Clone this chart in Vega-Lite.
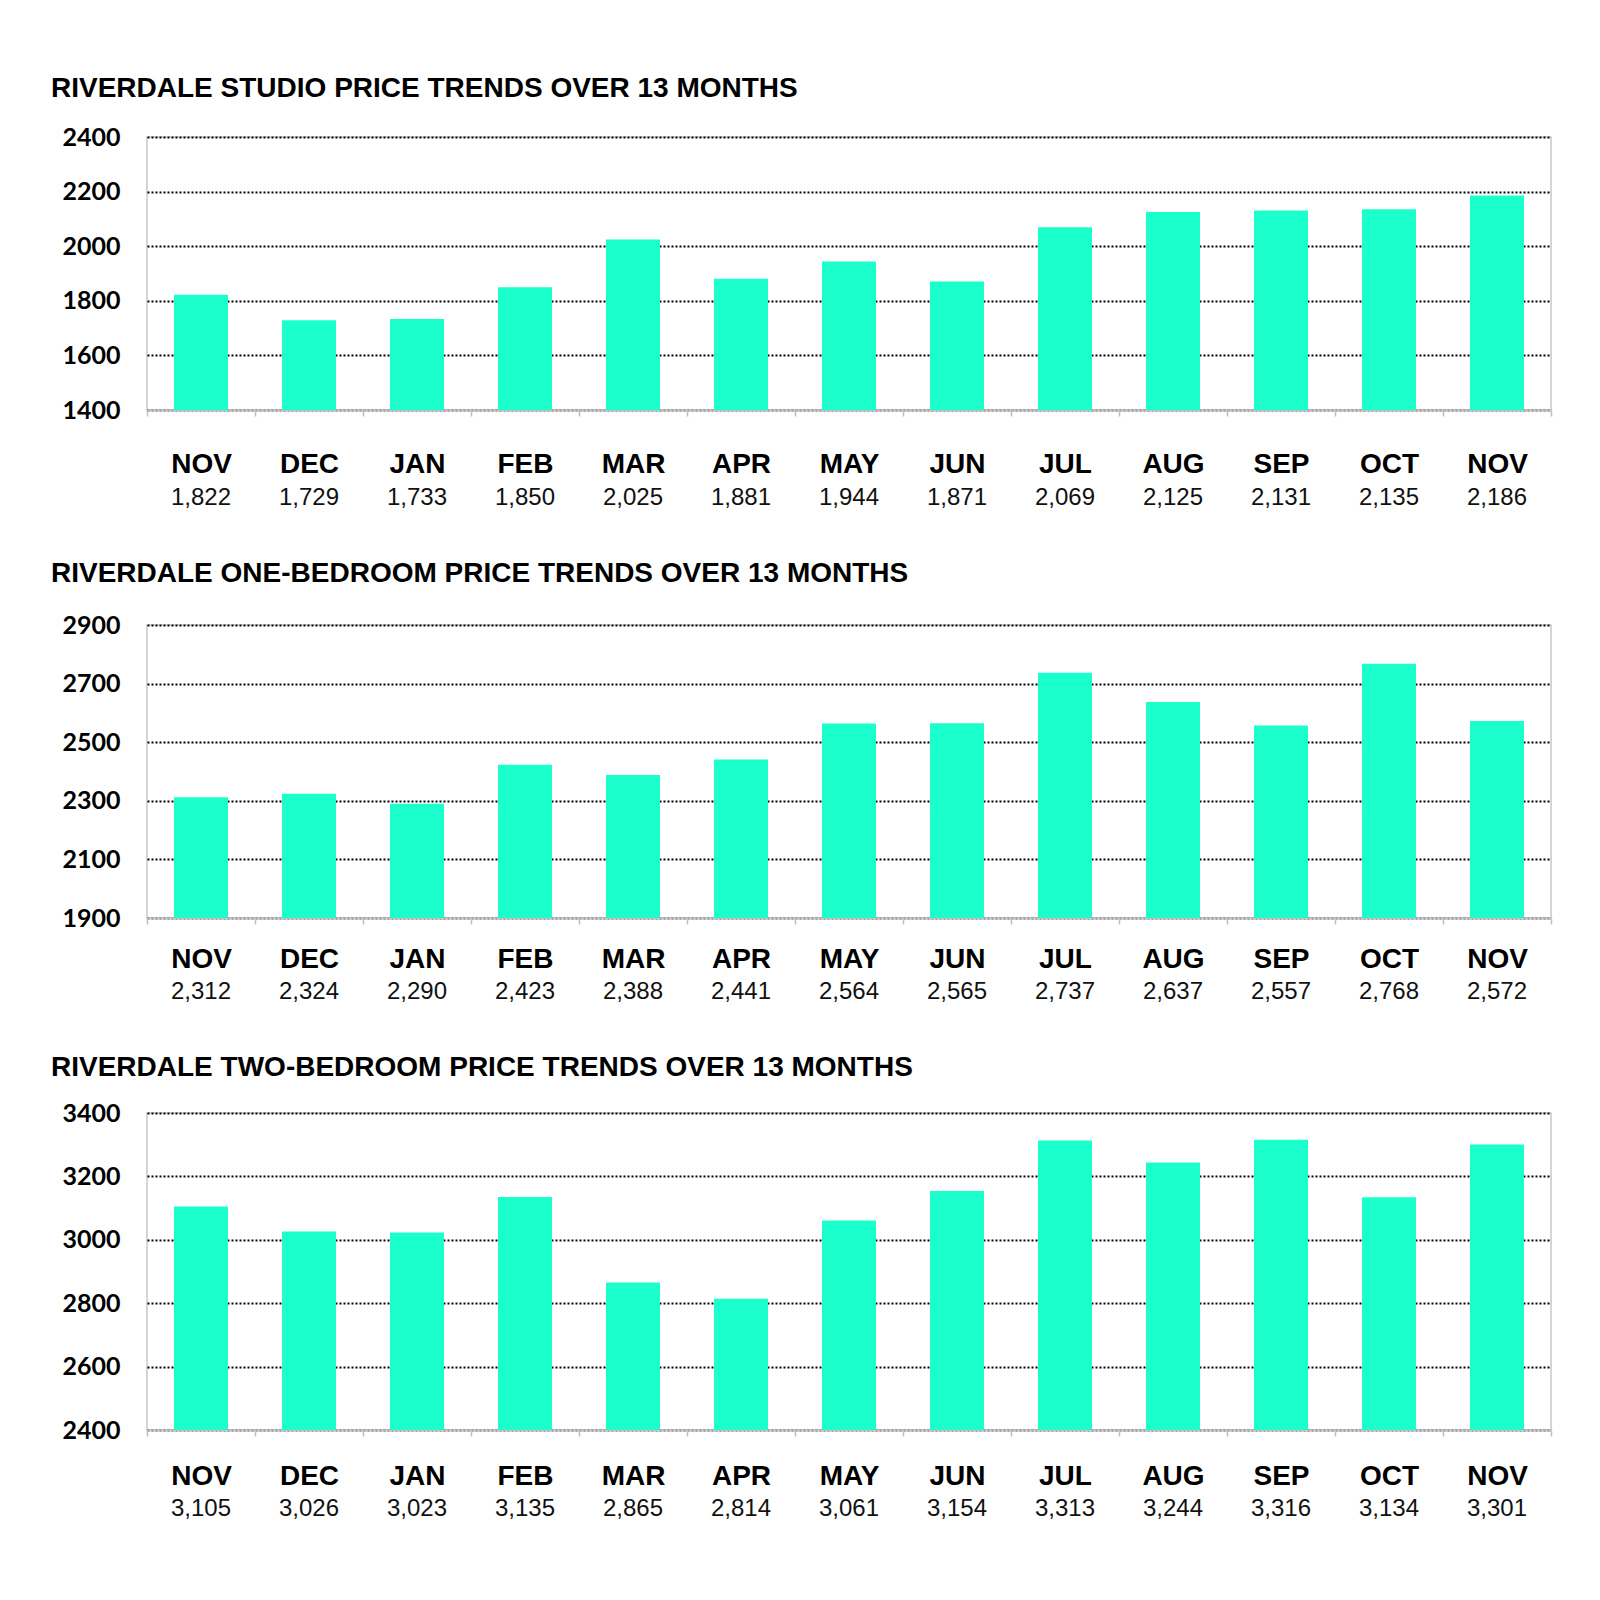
{
  "$schema": "https://vega.github.io/schema/vega-lite/v6.json",
  "background": "white",
  "padding": {"left": 50, "top": 74, "right": 20, "bottom": 10},
  "spacing": 48,
  "data": {"values": [
    {"chart": "studio", "date": "2017-11-15", "value": 1822},
    {"chart": "studio", "date": "2017-12-15", "value": 1729},
    {"chart": "studio", "date": "2018-01-15", "value": 1733},
    {"chart": "studio", "date": "2018-02-15", "value": 1850},
    {"chart": "studio", "date": "2018-03-15", "value": 2025},
    {"chart": "studio", "date": "2018-04-15", "value": 1881},
    {"chart": "studio", "date": "2018-05-15", "value": 1944},
    {"chart": "studio", "date": "2018-06-15", "value": 1871},
    {"chart": "studio", "date": "2018-07-15", "value": 2069},
    {"chart": "studio", "date": "2018-08-15", "value": 2125},
    {"chart": "studio", "date": "2018-09-15", "value": 2131},
    {"chart": "studio", "date": "2018-10-15", "value": 2135},
    {"chart": "studio", "date": "2018-11-15", "value": 2186},
    {"chart": "one", "date": "2017-11-15", "value": 2312},
    {"chart": "one", "date": "2017-12-15", "value": 2324},
    {"chart": "one", "date": "2018-01-15", "value": 2290},
    {"chart": "one", "date": "2018-02-15", "value": 2423},
    {"chart": "one", "date": "2018-03-15", "value": 2388},
    {"chart": "one", "date": "2018-04-15", "value": 2441},
    {"chart": "one", "date": "2018-05-15", "value": 2564},
    {"chart": "one", "date": "2018-06-15", "value": 2565},
    {"chart": "one", "date": "2018-07-15", "value": 2737},
    {"chart": "one", "date": "2018-08-15", "value": 2637},
    {"chart": "one", "date": "2018-09-15", "value": 2557},
    {"chart": "one", "date": "2018-10-15", "value": 2768},
    {"chart": "one", "date": "2018-11-15", "value": 2572},
    {"chart": "two", "date": "2017-11-15", "value": 3105},
    {"chart": "two", "date": "2017-12-15", "value": 3026},
    {"chart": "two", "date": "2018-01-15", "value": 3023},
    {"chart": "two", "date": "2018-02-15", "value": 3135},
    {"chart": "two", "date": "2018-03-15", "value": 2865},
    {"chart": "two", "date": "2018-04-15", "value": 2814},
    {"chart": "two", "date": "2018-05-15", "value": 3061},
    {"chart": "two", "date": "2018-06-15", "value": 3154},
    {"chart": "two", "date": "2018-07-15", "value": 3313},
    {"chart": "two", "date": "2018-08-15", "value": 3244},
    {"chart": "two", "date": "2018-09-15", "value": 3316},
    {"chart": "two", "date": "2018-10-15", "value": 3134},
    {"chart": "two", "date": "2018-11-15", "value": 3301}
  ]},
  "config": {
    "view": {"stroke": "#c8c8c8", "strokeWidth": 1.5},
    "font": "Liberation Sans",
    "title": {"anchor": "start", "frame": "group", "font": "Liberation Sans", "fontSize": 28, "fontWeight": "bold", "color": "#000000", "dx": -96},
    "axisY": {"title": null, "grid": true, "gridColor": "#000000", "gridDash": [2, 2], "gridWidth": 2, "domain": false, "ticks": false, "format": "d", "labelFont": "Lato", "labelFontWeight": "bold", "labelFontSize": 25, "labelColor": "#000000", "labelPadding": 27},
    "axisX": {"title": null, "grid": false, "zindex": 1, "labelAngle": 0, "labelExpr": "upper(timeFormat(datum.value, '%b'))", "labelFont": "Liberation Sans", "labelFontWeight": "bold", "labelFontSize": 28, "labelColor": "#000000", "tickBand": "extent", "tickSize": 6, "tickColor": "#bfbfbf", "tickWidth": 1.5, "domainColor": "#bfbfbf", "domainWidth": 2},
    "bar": {"color": "#1AFFCB", "width": {"band": 0.5}, "clip": true},
    "text": {"font": "Liberation Sans", "fontSize": 24, "color": "#111111", "baseline": "middle", "align": "center"}
  },
  "vconcat": [
    {
      "title": {"text": "RIVERDALE STUDIO PRICE TRENDS OVER 13 MONTHS", "offset": 22},
      "width": 1404, "height": 273,
      "transform": [{"filter": "datum.chart === 'studio'"}],
      "encoding": {
        "x": {"field": "date", "type": "ordinal", "timeUnit": "yearmonth", "scale": {"paddingInner": 0, "paddingOuter": 0}, "axis": {"labelPadding": 34}}
      },
      "layer": [
        {"mark": {"type": "bar", "clip": true},
         "encoding": {"y": {"field": "value", "type": "quantitative", "scale": {"domain": [1400, 2400], "nice": false, "zero": false}, "axis": {"values": [1400, 1600, 1800, 2000, 2200, 2400]}}}},
        {"mark": {"type": "text", "dy": 88},
         "encoding": {"y": {"datum": 1400, "type": "quantitative"}, "text": {"field": "value", "type": "quantitative", "format": ","}}}
      ]
    },
    {
      "title": {"text": "RIVERDALE ONE-BEDROOM PRICE TRENDS OVER 13 MONTHS", "offset": 25},
      "width": 1404, "height": 293,
      "transform": [{"filter": "datum.chart === 'one'"}],
      "encoding": {
        "x": {"field": "date", "type": "ordinal", "timeUnit": "yearmonth", "scale": {"paddingInner": 0, "paddingOuter": 0}, "axis": {"labelPadding": 21}}
      },
      "layer": [
        {"mark": {"type": "bar", "clip": true},
         "encoding": {"y": {"field": "value", "type": "quantitative", "scale": {"domain": [1900, 2900], "nice": false, "zero": false}, "axis": {"values": [1900, 2100, 2300, 2500, 2700, 2900]}}}},
        {"mark": {"type": "text", "dy": 74},
         "encoding": {"y": {"datum": 1900, "type": "quantitative"}, "text": {"field": "value", "type": "quantitative", "format": ","}}}
      ]
    },
    {
      "title": {"text": "RIVERDALE TWO-BEDROOM PRICE TRENDS OVER 13 MONTHS", "offset": 19},
      "width": 1404, "height": 317,
      "transform": [{"filter": "datum.chart === 'two'"}],
      "encoding": {
        "x": {"field": "date", "type": "ordinal", "timeUnit": "yearmonth", "scale": {"paddingInner": 0, "paddingOuter": 0}, "axis": {"labelPadding": 26}}
      },
      "layer": [
        {"mark": {"type": "bar", "clip": true},
         "encoding": {"y": {"field": "value", "type": "quantitative", "scale": {"domain": [2400, 3400], "nice": false, "zero": false}, "axis": {"values": [2400, 2600, 2800, 3000, 3200, 3400]}}}},
        {"mark": {"type": "text", "dy": 79},
         "encoding": {"y": {"datum": 2400, "type": "quantitative"}, "text": {"field": "value", "type": "quantitative", "format": ","}}}
      ]
    }
  ]
}
